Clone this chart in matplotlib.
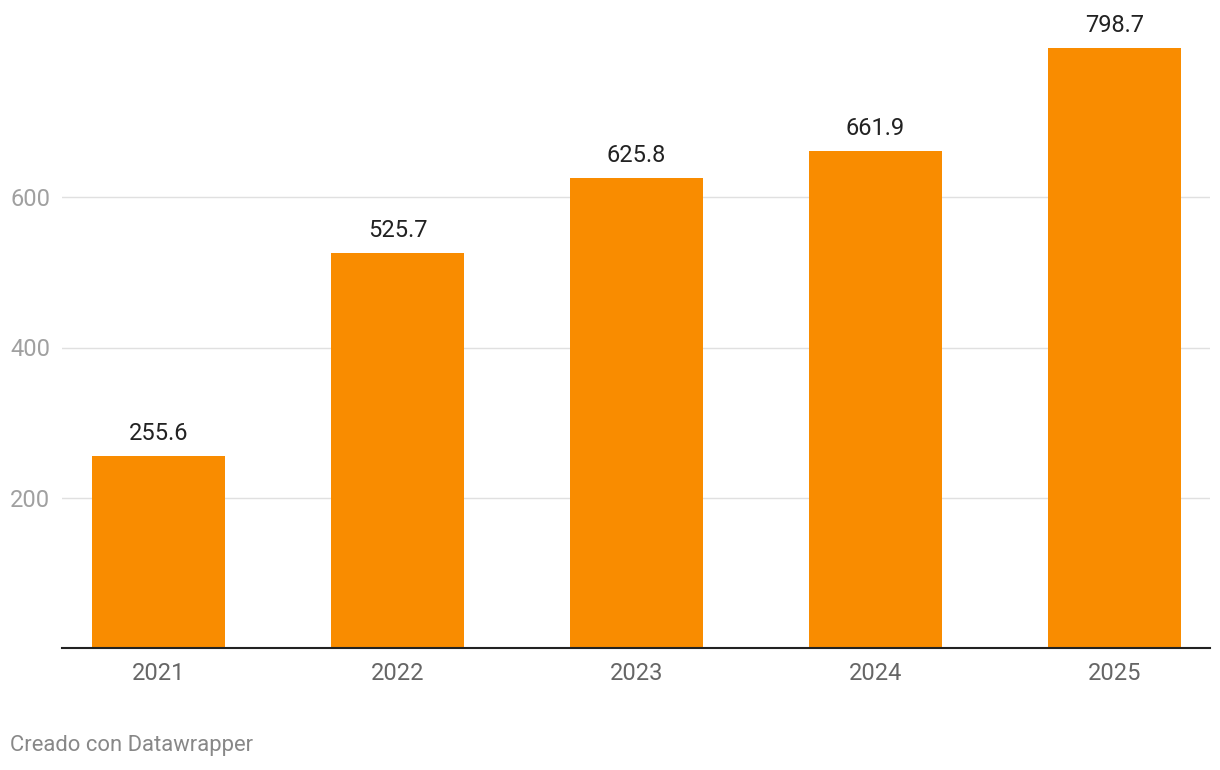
import matplotlib.pyplot as plt

years = ["2021", "2022", "2023", "2024", "2025"]
values = [255.6, 525.7, 625.8, 661.9, 798.7]
yticks = [200, 400, 600]

plt.rcParams['font.family'] = ['Roboto', 'DejaVu Sans']

fig = plt.figure(figsize=(12.2, 7.7), dpi=100)
ax = fig.add_axes([62 / 1220, 1 - 648 / 770, (1210 - 62) / 1220, (648 - 47) / 770])

x = list(range(len(years)))
bars = ax.bar(x, values, width=0.557, color='#f98c00', zorder=2)

for rect, v in zip(bars, values):
    ax.annotate(f'{v:.1f}', xy=(rect.get_x() + rect.get_width() / 2, v),
                xytext=(0, 8), textcoords="offset points", ha='center', va='bottom',
                fontsize=17, color='#222222', annotation_clip=False)

ax.set_xlim(-0.404, 4.40)
ax.set_ylim(0, 800)
ax.set_yticks(yticks)
ax.set_xticks(x)
ax.set_xticklabels(years)
ax.grid(axis='y', color='#e0e0e0', linewidth=1, zorder=0)
for s in ['top', 'right', 'left']:
    ax.spines[s].set_visible(False)
ax.spines['bottom'].set_color('#222222')
ax.spines['bottom'].set_linewidth(1.5)
# y labels left-aligned at the figure's left edge
ax.tick_params(axis='y', length=0, pad=52 * 0.72, labelsize=17, labelcolor='#a0a0a0')
ax.tick_params(axis='x', length=0, pad=10, labelsize=17, labelcolor='#666666')
for lbl in ax.get_yticklabels():
    lbl.set_horizontalalignment('left')

fig.text(10 / 1220, 1 - 746 / 770, "Creado con Datawrapper", fontsize=15.8,
         color='#888888', va='center', ha='left')

fig.savefig("out.png", dpi=100)
